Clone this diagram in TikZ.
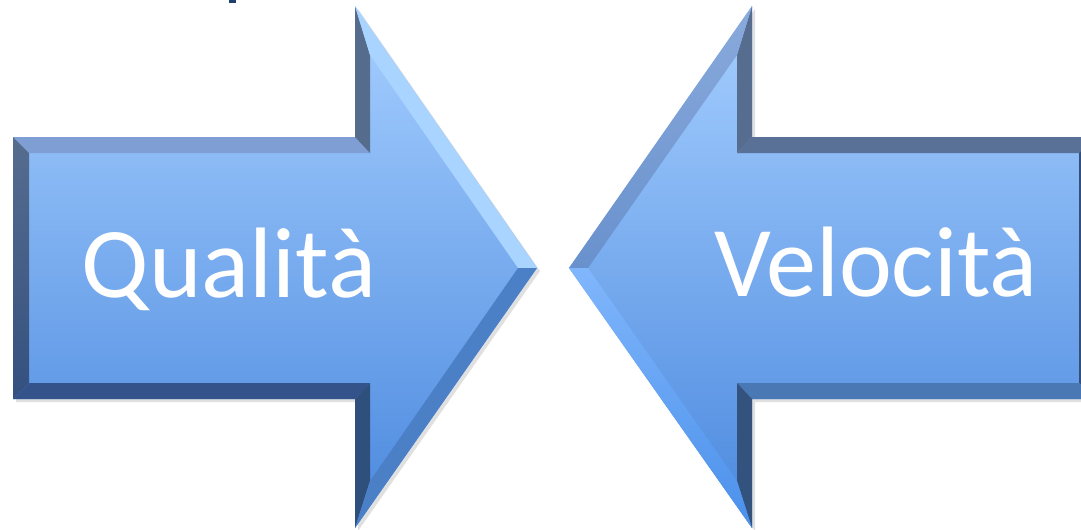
\documentclass[tikz,border=0pt]{standalone}
\usepackage{fontspec}
\setmainfont{Carlito}
\usetikzlibrary{calc}
\definecolor{facetop}{HTML}{A6CFFF}
\definecolor{facebot}{HTML}{4A88DE}
\definecolor{titleblue}{HTML}{1F3F6E}
% one bevel face of an arrow: four corners
\def\bevel[#1](#2)(#3)(#4)(#5){\fill[#1] (#2) -- (#3) -- (#4) -- (#5) -- cycle;}

\begin{document}
\begin{tikzpicture}[x=0.02cm, y=-0.02cm,
    label/.style={text=white, font=\fontsize{57}{60}\selectfont, anchor=base},
    shadow/.style={fill=black, opacity=0.12}]
			%%%%% START %%%%%
			
			\clip (0, 0) rectangle (1081, 529);
			
			% bit of the title above
			\fill[titleblue] (229, 0) rectangle (236, 3);
			
			% shadows
			\fill[shadow] (16, 140) -- (358, 140) -- (358, 9) -- (540, 271) -- (358, 531) -- (358, 402) -- (16, 402) -- cycle;
			\fill[shadow] (1098, 140) -- (755, 140) -- (755, 9) -- (572, 271) -- (755, 531) -- (755, 402) -- (1098, 402) -- cycle;
			
			%%% left arrow (points right)
			\shade[top color=facetop, bottom color=facebot] (13, 137) -- (355, 137) -- (355, 6) -- (537, 268) -- (355, 528) -- (355, 399) -- (13, 399) -- cycle;
			
			\bevel[color={rgb,255:red,127;green,159;blue,212}](13, 137)(355, 137)(370, 153)(29, 153)
			\shade[top color={rgb,255:red,86;green,109;blue,143}, bottom color={rgb,255:red,52;green,80;blue,127}] (13, 137) -- (29, 153) -- (29, 383) -- (13, 399) -- cycle;
			\bevel[color={rgb,255:red,52;green,83;blue,138}](13, 399)(29, 383)(370, 383)(355, 399)
			\bevel[color={rgb,255:red,86;green,108;blue,140}](355, 6)(370, 55)(370, 153)(355, 137)
			\bevel[color={rgb,255:red,47;green,79;blue,125}](355, 399)(370, 383)(370, 481)(355, 528)
			\bevel[color={rgb,255:red,168;green,212;blue,255}](355, 6)(537, 268)(518, 268)(370, 55)
			\bevel[color={rgb,255:red,76;green,128;blue,198}](537, 268)(355, 528)(370, 481)(518, 268)
			
			%%% right arrow (points left)
			\shade[top color=facetop, bottom color=facebot] (1095, 137) -- (752, 137) -- (752, 6) -- (569, 268) -- (752, 528) -- (752, 399) -- (1095, 399) -- cycle;
			
			\bevel[color={rgb,255:red,90;green,113;blue,151}](1095, 137)(752, 137)(737, 153)(1079, 153)
			\bevel[color={rgb,255:red,52;green,80;blue,122}](1095, 137)(1079, 153)(1079, 383)(1095, 399)
			\bevel[color={rgb,255:red,74;green,120;blue,180}](1095, 399)(1079, 383)(737, 383)(752, 399)
			\bevel[color={rgb,255:red,86;green,109;blue,143}](752, 6)(737, 55)(737, 153)(752, 137)
			\bevel[color={rgb,255:red,51;green,82;blue,126}](752, 399)(737, 383)(737, 481)(752, 528)
			\shade[top color={rgb,255:red,137;green,170;blue,220}, bottom color={rgb,255:red,105;green,145;blue,205}] (752, 6) -- (569, 268) -- (588, 268) -- (737, 55) -- cycle;
			\shade[top color={rgb,255:red,128;green,182;blue,252}, bottom color={rgb,255:red,74;green,144;blue,234}] (569, 268) -- (752, 528) -- (737, 481) -- (588, 268) -- cycle;
			
			% labels
			\node[label] (quality) at (229, 297) {Qualità};
			\node[label] (speed) at (876, 296) {Velocità};
			
			%%%%% END %%%%%
		\end{tikzpicture}
\end{document}
